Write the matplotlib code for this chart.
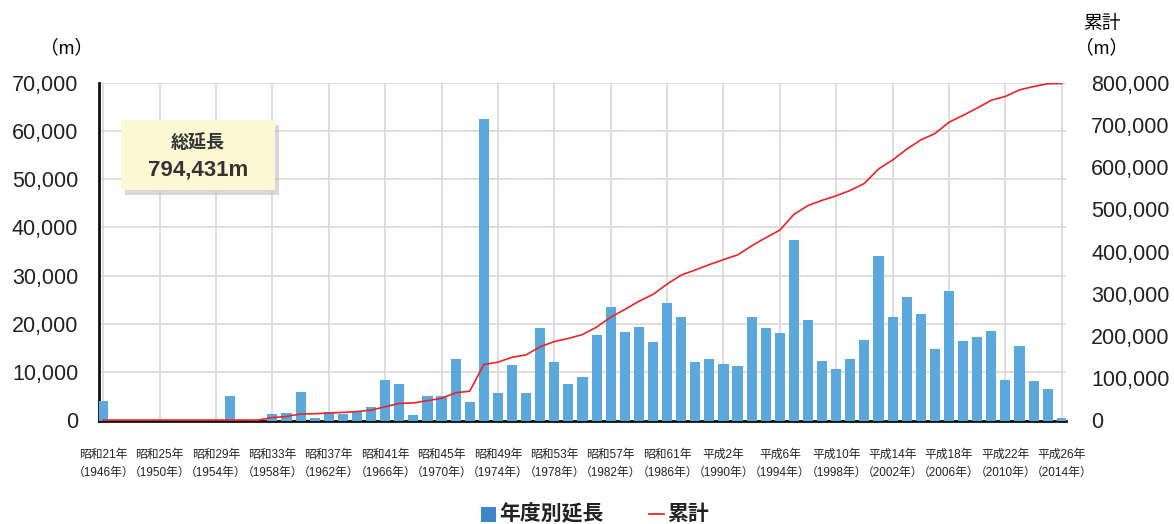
import matplotlib
matplotlib.use('Agg')
import matplotlib.pyplot as plt
from matplotlib.patches import Rectangle
from matplotlib.lines import Line2D
from matplotlib.ticker import FuncFormatter

plt.rcParams['font.family'] = ['Liberation Sans', 'Noto Sans CJK JP']

years = list(range(1946, 2015))
annual_m = [4000, 0, 0, 0, 0, 0, 0, 0, 0, 5100, 0, 0, 1350, 1620, 5900, 450,
            1760, 1350, 1900, 2870, 8390, 7560, 1070, 5080, 5080, 12740, 3760,
            62500, 5770, 11500, 5770, 19230, 12120, 7560, 9080, 17650, 23520,
            18270, 19370, 16260, 24410, 21370, 12120, 12740, 11710, 11220,
            21370, 19230, 18060, 37400, 20890, 12330, 10740, 12740, 16680,
            34080, 21370, 25520, 22070, 14740, 26830, 16470, 17370, 18470,
            8390, 15440, 8180, 6600, 520]
cumulative_m = [1000, 1000, 1000, 1000, 1000, 1000, 1000, 1000, 1000, 1000,
                1000, 1000, 7000, 9500, 15500, 16000, 17800, 19200, 21200,
                24500, 32500, 40500, 41500, 47000, 52500, 65500, 69500,
                132500, 138200, 149700, 155500, 174700, 186900, 194400,
                203500, 221200, 244700, 263000, 282300, 298600, 323000,
                344400, 356500, 369200, 380900, 392200, 413500, 432800,
                450800, 488200, 509100, 521400, 532200, 544900, 561600,
                595700, 617000, 642600, 664600, 679400, 706200, 722700,
                740000, 758500, 767500, 783000, 791000, 797500, 798000]
tick_labels = ['昭和21年\n（1946年）', '昭和25年\n（1950年）', '昭和29年\n（1954年）',
               '昭和33年\n（1958年）', '昭和37年\n（1962年）', '昭和41年\n（1966年）',
               '昭和45年\n（1970年）', '昭和49年\n（1974年）', '昭和53年\n（1978年）',
               '昭和57年\n（1982年）', '昭和61年\n（1986年）', '平成2年\n（1990年）',
               '平成6年\n（1994年）', '平成10年\n（1998年）', '平成14年\n（2002年）',
               '平成18年\n（2006年）', '平成22年\n（2010年）', '平成26年\n（2014年）']
tick_years = list(range(1946, 2015, 4))
total_label = '794,431m'

BAR = '#5ba8dc'
RED = '#e8242c'
GRID = '#ddd6d4'

fig = plt.figure(figsize=(11.74, 5.24), dpi=100)
ax = fig.add_axes([99/1174, 103.5/524, 967/1174, 337.8/524])
ax2 = ax.twinx()
ax.set_zorder(ax2.get_zorder() - 1)
ax.patch.set_visible(True)
ax2.patch.set_visible(False)

ax.bar(years, annual_m, width=0.72, color=BAR, zorder=3)
ax2.plot(years, cumulative_m, color=RED, lw=1.2, zorder=4)

ax.set_xlim(1946 - 0.3, 2014 + 0.3)
ax.set_ylim(0, 70000)
ax2.set_ylim(0, 800000)
ax.set_yticks(range(0, 70001, 10000))
ax2.set_yticks(range(0, 800001, 100000))
fmt = FuncFormatter(lambda v, p: f'{int(v):,}')
ax.yaxis.set_major_formatter(fmt)
ax2.yaxis.set_major_formatter(fmt)
ax.set_xticks(tick_years)
ax.set_xticklabels(tick_labels, fontsize=8.5, linespacing=1.6,
                   family=['Liberation Sans', 'Noto Sans CJK JP'])

ax.grid(True, color=GRID, lw=1.2, zorder=0)
ax.set_axisbelow(True)
ax.tick_params(axis='y', length=0, pad=15, labelsize=15.5, colors='#222222')
ax.tick_params(axis='x', length=0, pad=20.5, colors='#222222')
ax2.tick_params(axis='y', length=0, pad=18, labelsize=15.5, colors='#222222')

for a in (ax, ax2):
    a.spines['top'].set_visible(False)
    a.spines['right'].set_visible(False)
ax2.spines['left'].set_visible(False)
ax2.spines['bottom'].set_visible(False)
ax.spines['left'].set_linewidth(2.0)
ax.spines['bottom'].set_linewidth(2.0)
ax.spines['left'].set_color('#111111')
ax.spines['bottom'].set_color('#111111')

# unit labels
fig.text(67/1174, 1 - 48/524, '（m）', ha='center', va='center', fontsize=13.5)
fig.text(1102/1174, 1 - 24/524, '累計', ha='center', va='center', fontsize=13.5)
fig.text(1102/1174, 1 - 48/524, '（m）', ha='center', va='center', fontsize=13.5)

# annotation box with shadow
shadow = Rectangle((125/1174, 1 - 195/524), 154/1174, 70/524,
                   transform=fig.transFigure, facecolor='#c8c8c8',
                   edgecolor='none', alpha=0.7, zorder=5)
box = Rectangle((121/1174, 1 - 190/524), 154/1174, 70/524,
                transform=fig.transFigure, facecolor='#fdf8d4',
                edgecolor='none', zorder=6)
fig.add_artist(shadow)
fig.add_artist(box)
fig.text(198/1174, 1 - 143/524, '総延長', ha='center', va='center',
         fontsize=13, fontweight='bold', color='#333333', zorder=7)
fig.text(198/1174, 1 - 170/524, total_label, ha='center', va='center',
         fontsize=16, fontweight='bold', color='#333333', zorder=7)

# legend
fig.add_artist(Rectangle((481/1174, 1 - 521.5/524), 14.5/1174, 15/524,
                         transform=fig.transFigure, facecolor='#3f86c6',
                         edgecolor='none'))
fig.text(499/1174, 1 - 514/524, '年度別延長', ha='left', va='center',
         fontsize=15, fontweight='bold', color='#222222')
fig.add_artist(Line2D([649/1174, 664/1174], [1 - 514/524, 1 - 514/524],
                      transform=fig.transFigure, color=RED, lw=1.3))
fig.text(667/1174, 1 - 514/524, '累計', ha='left', va='center',
         fontsize=15, fontweight='bold', color='#222222')

fig.savefig('out.png', dpi=100)
